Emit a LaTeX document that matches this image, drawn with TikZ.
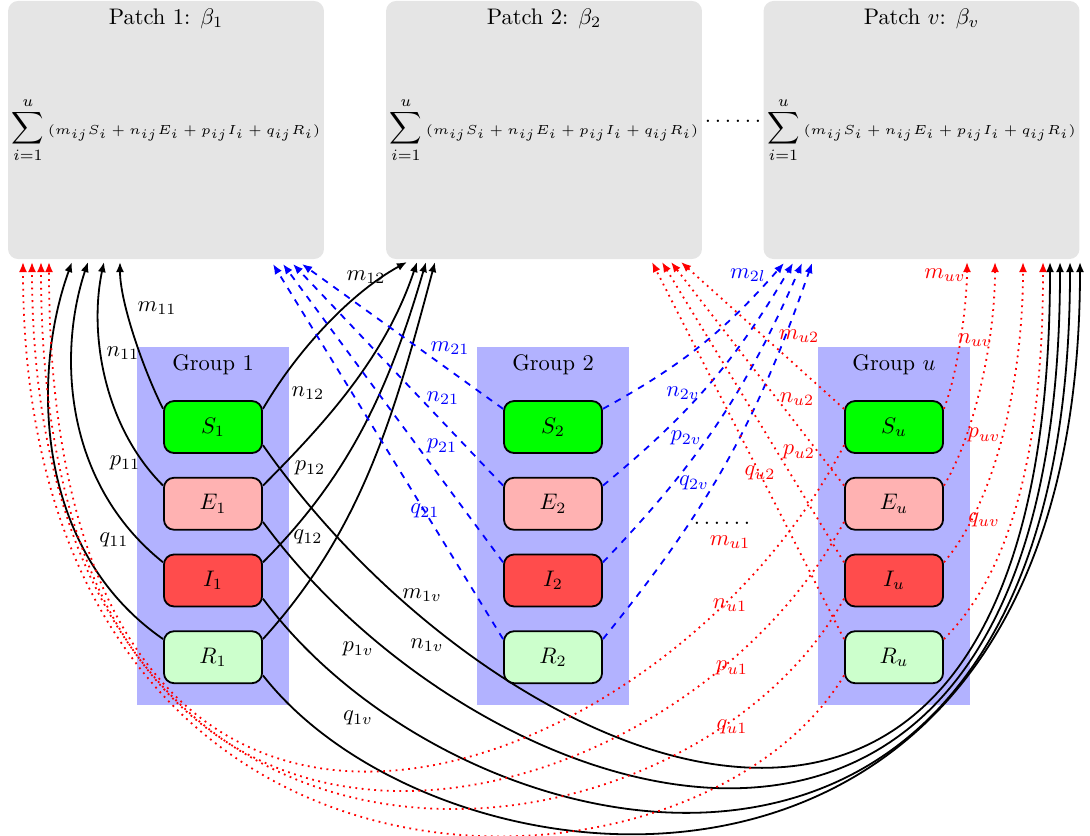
\documentclass[tikz,border=0pt]{standalone}
\usepackage{amsmath}
\usepackage{amssymb}
\usepackage{graphicx}
\usetikzlibrary{arrows.meta, positioning}

\newcommand{\patchsum}{$\displaystyle\sum_{i=1}^{u}\mbox{\resizebox{121pt}{!}{\tiny$(m_{ij}S_i+n_{ij}E_i+p_{ij}I_i+q_{ij}R_i)$}}$}

\begin{document}
\begin{tikzpicture}[
        x=0.4444pt, y=-0.4444pt,
        patch/.style={fill=gray!20, rounded corners=4.5pt, minimum width=140.4pt, minimum height=114.7pt, inner sep=1pt},
        grp/.style={fill=blue!30, minimum width=67.6pt, minimum height=159.1pt},
        comp/.style={draw, thick, rounded corners=4.5pt, minimum width=43.6pt, minimum height=23.1pt},
        flow/.style={thick, -{Latex[length=4.5pt, width=3.6pt]}},
        node distance=10.2pt
    ]
        \useasboundingbox (0,0) rectangle (1090,835);

        \node[patch, label={[anchor=north]north:{Patch 1: $\beta_1$}}] (p1) at (166,130) {\patchsum};
        \node[patch, label={[anchor=north]north:{Patch 2: $\beta_2$}}] (p2) at (544,130) {\patchsum};
        \node[patch, label={[anchor=north]north:{Patch $v$: $\beta_v$}}] (pv) at (921.5,130) {\patchsum};
        \node (dots1) at (733,121) {$\ldots\ldots$};
        \node (dots2) at (722,523) {$\ldots\ldots$};

        \foreach \g/\x in {1/213, 2/553, u/894} {
            \node[grp, label={[anchor=north]north:{Group $\g$}}] (g\g) at (\x,526) {};
            \node[comp, fill=green] (S\g) at (\x,427) {$S_\g$};
            \node[comp, fill=red!30, below=of S\g] (E\g) {$E_\g$};
            \node[comp, fill=red!70, below=of E\g] (I\g) {$I_\g$};
            \node[comp, fill=green!20, below=of I\g] (R\g) {$R_\g$};
        }

        \foreach \s/\tx/\ox/\oy/\px/\py/\l/\lx/\ly in {S/120/-20/-40/0/40/m_{11}/157/308, E/104/-60/-60/-15/70/n_{11}/123/353, I/88/-100/-80/-30/90/p_{11}/125/463, R/72/-130/-90/-40/110/q_{11}/114/540} {
            \coordinate (p1\s1) at (\tx,262);
            \draw[flow] (\s1.160) .. controls +(\ox,\oy) and +(\px,\py) .. (p1\s1);
            \node (la\s1) at (\lx,\ly) {$\l$};
        }

        \foreach \s/\tx/\ox/\oy/\px/\py/\l/\lx/\ly in {S/407/35/-60/-55/30/m_{12}/366/277, E/417/70/-70/-30/90/n_{12}/308/393, I/426/90/-90/-35/120/p_{12}/310/468, R/435/100/-110/-40/150/q_{12}/308/537} {
            \coordinate (p2\s1) at (\tx,262);
            \draw[flow] (\s1.20) .. controls +(\ox,\oy) and +(\px,\py) .. (p2\s1);
            \node (lb\s1) at (\lx,\ly) {$\l$};
        }

        \foreach \s/\tx/\ox/\oy/\b/\l/\lx/\ly in {S/1050/230/330/770/m_{1v}/422/595, E/1060/220/300/753/n_{1v}/427/645, I/1070/200/270/737/p_{1v}/358/649, R/1080/180/230/710/q_{1v}/358/718} {
            \coordinate (pv\s1) at (\tx,262);
            \draw[flow] (\s1.340) .. controls +(\ox,\oy) and +(0,\b) .. (pv\s1);
            \node (lc\s1) at (\lx,\ly) {$\l$};
        }

        \foreach \s/\tx/\l/\lx/\ly in {S/302/m_{21}/450/348, E/293/n_{21}/443/398, I/283/p_{21}/442/446, R/273/q_{21}/425/511} {
            \coordinate (p1\s2) at (\tx,264);
            \draw[flow, blue, dashed] (\s2.160) -- (p1\s2);
            \node[blue] (la\s2) at (\lx,\ly) {$\l$};
        }

        \foreach \s/\tx/\l/\lx/\ly in {S/784/m_{2l}/748/275, E/793/n_{2v}/683/393, I/802/p_{2v}/686/438, R/812/q_{2v}/694/483} {
            \coordinate (pv\s2) at (\tx,263);
            \draw[flow, blue, dashed] (\s2.20) to[bend right=10] (pv\s2);
            \node[blue] (lb\s2) at (\lx,\ly) {$\l$};
        }

        \foreach \s/\tx/\l/\lx/\ly in {S/681/m_{u2}/799/336, E/671/n_{u2}/797/399, I/662/p_{u2}/799/452, R/652/q_{u2}/760/473} {
            \coordinate (p2\s u) at (\tx,262);
            \draw[flow, red, dotted] (\s u.160) -- (p2\s u);
            \node[red] (la\s u) at (\lx,\ly) {$\l$};
        }

        \foreach \s/\tx/\ox/\oy/\b/\l/\lx/\ly in {S/967/15/-40/40/m_{uv}/945/275, E/995/30/-50/80/n_{uv}/975/340, I/1023/55/-65/110/p_{uv}/984/435, R/1043/80/-80/150/q_{uv}/984/520} {
            \coordinate (pv\s u) at (\tx,262);
            \draw[flow, red, dotted] (\s u.20) .. controls +(\ox,\oy) and +(0,\b) .. (pv\s u);
            \node[red] (lb\s u) at (\lx,\ly) {$\l$};
        }

        \foreach \s/\tx/\ox/\oy/\b/\l/\lx/\ly in {S/49/-180/350/761/m_{u1}/730/542, E/41/-170/320/739/n_{u1}/730/605, I/32/-160/290/700/p_{u1}/732/668, R/23/-150/250/687/q_{u1}/732/727} {
            \coordinate (p1\s u) at (\tx,262);
            \draw[flow, red, dotted] (\s u.200) .. controls +(\ox,\oy) and +(0,\b) .. (p1\s u);
            \node[red] (lc\s u) at (\lx,\ly) {$\l$};
        }
    \end{tikzpicture}
\end{document}
